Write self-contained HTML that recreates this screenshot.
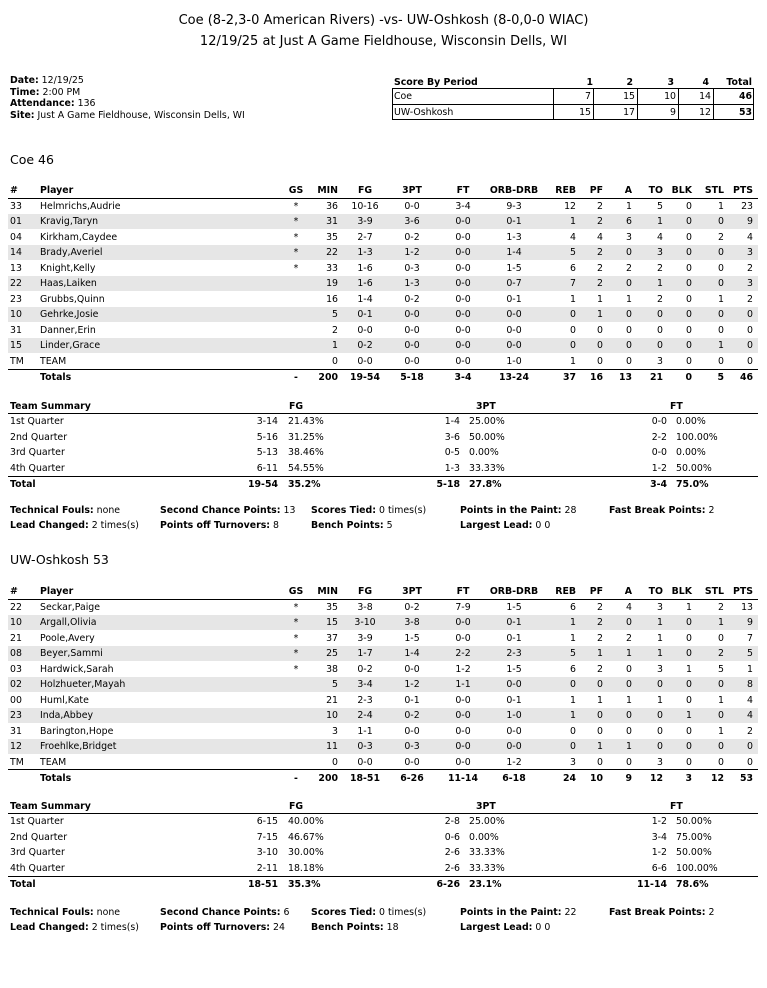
<!DOCTYPE html>
<html><head><meta charset="utf-8"><style>
*{margin:0;padding:0;box-sizing:border-box}
body{width:767px;height:988px;background:#fff;position:relative;font-family:"DejaVu Sans","Liberation Sans",sans-serif;font-size:9.4px;color:#000;overflow:hidden}
.a{position:absolute;white-space:nowrap}
.t{position:absolute;left:0;width:767px;text-align:center;font-size:13px}
.r{position:absolute;left:8px;width:750px;height:15px;line-height:15px}
.r span{position:absolute;top:0;white-space:nowrap}
.sh{background:#e6e6e6}
.b{font-weight:bold}
.n{left:2px}.p{left:32px}
.gs{left:278px;width:20px;text-align:center}
.mn{left:300px;width:30px;text-align:right}
.fg{left:332px;width:50px;text-align:center}
.t3{left:379px;width:50px;text-align:center}
.ft{left:430px;width:50px;text-align:center}
.ob{left:472px;width:68px;text-align:center}
.rb{left:538px;width:30px;text-align:right}
.pf{left:575px;width:20px;text-align:right}
.aa{left:604px;width:20px;text-align:right}
.to{left:635px;width:20px;text-align:right}
.bk{left:659px;width:25px;text-align:right}
.st{left:691px;width:25px;text-align:right}
.pt{left:715px;width:30px;text-align:right}
.line{position:absolute;left:8px;width:750px;height:1px;background:#000}
.s1{left:200px;width:70px;text-align:right}.s1p{left:280px}
.s2{left:390px;width:62px;text-align:right}.s2p{left:461px}
.s3{left:600px;width:59px;text-align:right}.s3p{left:668px}
.box{position:absolute;border:1px solid #000}
</style></head><body>
<div class="t" style="top:13px">Coe (8-2,3-0 American Rivers) -vs- UW-Oshkosh (8-0,0-0 WIAC)</div>
<div class="t" style="top:34px">12/19/25 at Just A Game Fieldhouse, Wisconsin Dells, WI</div>

<div class="a" style="left:10px;top:75px"><b>Date:</b> 12/19/25</div>
<div class="a" style="left:10px;top:87px"><b>Time:</b> 2:00 PM</div>
<div class="a" style="left:10px;top:98px"><b>Attendance:</b> 136</div>
<div class="a" style="left:10px;top:110px"><b>Site:</b> Just A Game Fieldhouse, Wisconsin Dells, WI</div>

<div class="a b" style="left:394px;top:77px">Score By Period</div>
<div class="a b" style="left:583px;top:77px;width:10px;text-align:right">1</div>
<div class="a b" style="left:623px;top:77px;width:10px;text-align:right">2</div>
<div class="a b" style="left:664px;top:77px;width:10px;text-align:right">3</div>
<div class="a b" style="left:699px;top:77px;width:10px;text-align:right">4</div>
<div class="a b" style="left:720px;top:77px;width:32px;text-align:right">Total</div>
<div class="box" style="left:392px;top:88px;width:362px;height:32px"></div>
<div class="line" style="left:392px;width:362px;top:104px"></div>
<div class="a" style="left:553px;top:88px;width:1px;height:32px;background:#000"></div>
<div class="a" style="left:593px;top:88px;width:1px;height:32px;background:#000"></div>
<div class="a" style="left:637px;top:88px;width:1px;height:32px;background:#000"></div>
<div class="a" style="left:678px;top:88px;width:1px;height:32px;background:#000"></div>
<div class="a" style="left:713px;top:88px;width:1px;height:32px;background:#000"></div>
<div class="a" style="left:394px;top:91px">Coe</div>
<div class="a" style="left:394px;top:107px">UW-Oshkosh</div>
<div class="a" style="left:560px;top:91px;width:31px;text-align:right">7</div>
<div class="a" style="left:600px;top:91px;width:35px;text-align:right">15</div>
<div class="a" style="left:640px;top:91px;width:36px;text-align:right">10</div>
<div class="a" style="left:680px;top:91px;width:31px;text-align:right">14</div>
<div class="a b" style="left:715px;top:91px;width:37px;text-align:right">46</div>
<div class="a" style="left:560px;top:107px;width:31px;text-align:right">15</div>
<div class="a" style="left:600px;top:107px;width:35px;text-align:right">17</div>
<div class="a" style="left:640px;top:107px;width:36px;text-align:right">9</div>
<div class="a" style="left:680px;top:107px;width:31px;text-align:right">12</div>
<div class="a b" style="left:715px;top:107px;width:37px;text-align:right">53</div>

<!-- COE -->
<div class="a" style="left:10px;top:152px;font-size:12.5px">Coe 46</div>
<div class="r b" style="top:183px"><span class="n">#</span><span class="p">Player</span><span class="gs">GS</span><span class="mn">MIN</span><span class="fg">FG</span><span class="t3">3PT</span><span class="ft">FT</span><span class="ob">ORB-DRB</span><span class="rb">REB</span><span class="pf">PF</span><span class="aa">A</span><span class="to">TO</span><span class="bk">BLK</span><span class="st">STL</span><span class="pt">PTS</span></div>
<div class="line" style="top:198px"></div>
<div class="r" style="top:199px"><span class="n">33</span><span class="p">Helmrichs,Audrie</span><span class="gs">*</span><span class="mn">36</span><span class="fg">10-16</span><span class="t3">0-0</span><span class="ft">3-4</span><span class="ob">9-3</span><span class="rb">12</span><span class="pf">2</span><span class="aa">1</span><span class="to">5</span><span class="bk">0</span><span class="st">1</span><span class="pt">23</span></div>
<div class="r sh" style="top:214px"><span class="n">01</span><span class="p">Kravig,Taryn</span><span class="gs">*</span><span class="mn">31</span><span class="fg">3-9</span><span class="t3">3-6</span><span class="ft">0-0</span><span class="ob">0-1</span><span class="rb">1</span><span class="pf">2</span><span class="aa">6</span><span class="to">1</span><span class="bk">0</span><span class="st">0</span><span class="pt">9</span></div>
<div class="r" style="top:230px"><span class="n">04</span><span class="p">Kirkham,Caydee</span><span class="gs">*</span><span class="mn">35</span><span class="fg">2-7</span><span class="t3">0-2</span><span class="ft">0-0</span><span class="ob">1-3</span><span class="rb">4</span><span class="pf">4</span><span class="aa">3</span><span class="to">4</span><span class="bk">0</span><span class="st">2</span><span class="pt">4</span></div>
<div class="r sh" style="top:245px"><span class="n">14</span><span class="p">Brady,Averiel</span><span class="gs">*</span><span class="mn">22</span><span class="fg">1-3</span><span class="t3">1-2</span><span class="ft">0-0</span><span class="ob">1-4</span><span class="rb">5</span><span class="pf">2</span><span class="aa">0</span><span class="to">3</span><span class="bk">0</span><span class="st">0</span><span class="pt">3</span></div>
<div class="r" style="top:261px"><span class="n">13</span><span class="p">Knight,Kelly</span><span class="gs">*</span><span class="mn">33</span><span class="fg">1-6</span><span class="t3">0-3</span><span class="ft">0-0</span><span class="ob">1-5</span><span class="rb">6</span><span class="pf">2</span><span class="aa">2</span><span class="to">2</span><span class="bk">0</span><span class="st">0</span><span class="pt">2</span></div>
<div class="r sh" style="top:276px"><span class="n">22</span><span class="p">Haas,Laiken</span><span class="mn">19</span><span class="fg">1-6</span><span class="t3">1-3</span><span class="ft">0-0</span><span class="ob">0-7</span><span class="rb">7</span><span class="pf">2</span><span class="aa">0</span><span class="to">1</span><span class="bk">0</span><span class="st">0</span><span class="pt">3</span></div>
<div class="r" style="top:292px"><span class="n">23</span><span class="p">Grubbs,Quinn</span><span class="mn">16</span><span class="fg">1-4</span><span class="t3">0-2</span><span class="ft">0-0</span><span class="ob">0-1</span><span class="rb">1</span><span class="pf">1</span><span class="aa">1</span><span class="to">2</span><span class="bk">0</span><span class="st">1</span><span class="pt">2</span></div>
<div class="r sh" style="top:307px"><span class="n">10</span><span class="p">Gehrke,Josie</span><span class="mn">5</span><span class="fg">0-1</span><span class="t3">0-0</span><span class="ft">0-0</span><span class="ob">0-0</span><span class="rb">0</span><span class="pf">1</span><span class="aa">0</span><span class="to">0</span><span class="bk">0</span><span class="st">0</span><span class="pt">0</span></div>
<div class="r" style="top:323px"><span class="n">31</span><span class="p">Danner,Erin</span><span class="mn">2</span><span class="fg">0-0</span><span class="t3">0-0</span><span class="ft">0-0</span><span class="ob">0-0</span><span class="rb">0</span><span class="pf">0</span><span class="aa">0</span><span class="to">0</span><span class="bk">0</span><span class="st">0</span><span class="pt">0</span></div>
<div class="r sh" style="top:338px"><span class="n">15</span><span class="p">Linder,Grace</span><span class="mn">1</span><span class="fg">0-2</span><span class="t3">0-0</span><span class="ft">0-0</span><span class="ob">0-0</span><span class="rb">0</span><span class="pf">0</span><span class="aa">0</span><span class="to">0</span><span class="bk">0</span><span class="st">1</span><span class="pt">0</span></div>
<div class="r" style="top:354px"><span class="n">TM</span><span class="p">TEAM</span><span class="mn">0</span><span class="fg">0-0</span><span class="t3">0-0</span><span class="ft">0-0</span><span class="ob">1-0</span><span class="rb">1</span><span class="pf">0</span><span class="aa">0</span><span class="to">3</span><span class="bk">0</span><span class="st">0</span><span class="pt">0</span></div>
<div class="line" style="top:369px"></div>
<div class="r b" style="top:370px"><span class="p">Totals</span><span class="gs">-</span><span class="mn">200</span><span class="fg">19-54</span><span class="t3">5-18</span><span class="ft">3-4</span><span class="ob">13-24</span><span class="rb">37</span><span class="pf">16</span><span class="aa">13</span><span class="to">21</span><span class="bk">0</span><span class="st">5</span><span class="pt">46</span></div>

<div class="r b" style="top:399px"><span class="n">Team Summary</span><span style="left:281px">FG</span><span style="left:468px">3PT</span><span style="left:662px">FT</span></div>
<div class="line" style="top:413px"></div>
<div class="r" style="top:414px"><span class="n">1st Quarter</span><span class="s1">3-14</span><span class="s1p">21.43%</span><span class="s2">1-4</span><span class="s2p">25.00%</span><span class="s3">0-0</span><span class="s3p">0.00%</span></div>
<div class="r" style="top:430px"><span class="n">2nd Quarter</span><span class="s1">5-16</span><span class="s1p">31.25%</span><span class="s2">3-6</span><span class="s2p">50.00%</span><span class="s3">2-2</span><span class="s3p">100.00%</span></div>
<div class="r" style="top:445px"><span class="n">3rd Quarter</span><span class="s1">5-13</span><span class="s1p">38.46%</span><span class="s2">0-5</span><span class="s2p">0.00%</span><span class="s3">0-0</span><span class="s3p">0.00%</span></div>
<div class="r" style="top:461px"><span class="n">4th Quarter</span><span class="s1">6-11</span><span class="s1p">54.55%</span><span class="s2">1-3</span><span class="s2p">33.33%</span><span class="s3">1-2</span><span class="s3p">50.00%</span></div>
<div class="line" style="top:476px"></div>
<div class="r b" style="top:477px"><span class="n">Total</span><span class="s1">19-54</span><span class="s1p">35.2%</span><span class="s2">5-18</span><span class="s2p">27.8%</span><span class="s3">3-4</span><span class="s3p">75.0%</span></div>

<div class="a" style="left:10px;top:505px"><b>Technical Fouls:</b> none</div>
<div class="a" style="left:160px;top:505px"><b>Second Chance Points:</b> 13</div>
<div class="a" style="left:311px;top:505px"><b>Scores Tied:</b> 0 times(s)</div>
<div class="a" style="left:460px;top:505px"><b>Points in the Paint:</b> 28</div>
<div class="a" style="left:609px;top:505px"><b>Fast Break Points:</b> 2</div>
<div class="a" style="left:10px;top:520px"><b>Lead Changed:</b> 2 times(s)</div>
<div class="a" style="left:160px;top:520px"><b>Points off Turnovers:</b> 8</div>
<div class="a" style="left:311px;top:520px"><b>Bench Points:</b> 5</div>
<div class="a" style="left:460px;top:520px"><b>Largest Lead:</b> 0 0</div>

<!-- UWO -->
<div class="a" style="left:10px;top:552px;font-size:12.5px">UW-Oshkosh 53</div>
<div class="r b" style="top:584px"><span class="n">#</span><span class="p">Player</span><span class="gs">GS</span><span class="mn">MIN</span><span class="fg">FG</span><span class="t3">3PT</span><span class="ft">FT</span><span class="ob">ORB-DRB</span><span class="rb">REB</span><span class="pf">PF</span><span class="aa">A</span><span class="to">TO</span><span class="bk">BLK</span><span class="st">STL</span><span class="pt">PTS</span></div>
<div class="line" style="top:599px"></div>
<div class="r" style="top:600px"><span class="n">22</span><span class="p">Seckar,Paige</span><span class="gs">*</span><span class="mn">35</span><span class="fg">3-8</span><span class="t3">0-2</span><span class="ft">7-9</span><span class="ob">1-5</span><span class="rb">6</span><span class="pf">2</span><span class="aa">4</span><span class="to">3</span><span class="bk">1</span><span class="st">2</span><span class="pt">13</span></div>
<div class="r sh" style="top:615px"><span class="n">10</span><span class="p">Argall,Olivia</span><span class="gs">*</span><span class="mn">15</span><span class="fg">3-10</span><span class="t3">3-8</span><span class="ft">0-0</span><span class="ob">0-1</span><span class="rb">1</span><span class="pf">2</span><span class="aa">0</span><span class="to">1</span><span class="bk">0</span><span class="st">1</span><span class="pt">9</span></div>
<div class="r" style="top:631px"><span class="n">21</span><span class="p">Poole,Avery</span><span class="gs">*</span><span class="mn">37</span><span class="fg">3-9</span><span class="t3">1-5</span><span class="ft">0-0</span><span class="ob">0-1</span><span class="rb">1</span><span class="pf">2</span><span class="aa">2</span><span class="to">1</span><span class="bk">0</span><span class="st">0</span><span class="pt">7</span></div>
<div class="r sh" style="top:646px"><span class="n">08</span><span class="p">Beyer,Sammi</span><span class="gs">*</span><span class="mn">25</span><span class="fg">1-7</span><span class="t3">1-4</span><span class="ft">2-2</span><span class="ob">2-3</span><span class="rb">5</span><span class="pf">1</span><span class="aa">1</span><span class="to">1</span><span class="bk">0</span><span class="st">2</span><span class="pt">5</span></div>
<div class="r" style="top:662px"><span class="n">03</span><span class="p">Hardwick,Sarah</span><span class="gs">*</span><span class="mn">38</span><span class="fg">0-2</span><span class="t3">0-0</span><span class="ft">1-2</span><span class="ob">1-5</span><span class="rb">6</span><span class="pf">2</span><span class="aa">0</span><span class="to">3</span><span class="bk">1</span><span class="st">5</span><span class="pt">1</span></div>
<div class="r sh" style="top:677px"><span class="n">02</span><span class="p">Holzhueter,Mayah</span><span class="mn">5</span><span class="fg">3-4</span><span class="t3">1-2</span><span class="ft">1-1</span><span class="ob">0-0</span><span class="rb">0</span><span class="pf">0</span><span class="aa">0</span><span class="to">0</span><span class="bk">0</span><span class="st">0</span><span class="pt">8</span></div>
<div class="r" style="top:693px"><span class="n">00</span><span class="p">Huml,Kate</span><span class="mn">21</span><span class="fg">2-3</span><span class="t3">0-1</span><span class="ft">0-0</span><span class="ob">0-1</span><span class="rb">1</span><span class="pf">1</span><span class="aa">1</span><span class="to">1</span><span class="bk">0</span><span class="st">1</span><span class="pt">4</span></div>
<div class="r sh" style="top:708px"><span class="n">23</span><span class="p">Inda,Abbey</span><span class="mn">10</span><span class="fg">2-4</span><span class="t3">0-2</span><span class="ft">0-0</span><span class="ob">1-0</span><span class="rb">1</span><span class="pf">0</span><span class="aa">0</span><span class="to">0</span><span class="bk">1</span><span class="st">0</span><span class="pt">4</span></div>
<div class="r" style="top:724px"><span class="n">31</span><span class="p">Barington,Hope</span><span class="mn">3</span><span class="fg">1-1</span><span class="t3">0-0</span><span class="ft">0-0</span><span class="ob">0-0</span><span class="rb">0</span><span class="pf">0</span><span class="aa">0</span><span class="to">0</span><span class="bk">0</span><span class="st">1</span><span class="pt">2</span></div>
<div class="r sh" style="top:739px"><span class="n">12</span><span class="p">Froehlke,Bridget</span><span class="mn">11</span><span class="fg">0-3</span><span class="t3">0-3</span><span class="ft">0-0</span><span class="ob">0-0</span><span class="rb">0</span><span class="pf">1</span><span class="aa">1</span><span class="to">0</span><span class="bk">0</span><span class="st">0</span><span class="pt">0</span></div>
<div class="r" style="top:755px"><span class="n">TM</span><span class="p">TEAM</span><span class="mn">0</span><span class="fg">0-0</span><span class="t3">0-0</span><span class="ft">0-0</span><span class="ob">1-2</span><span class="rb">3</span><span class="pf">0</span><span class="aa">0</span><span class="to">3</span><span class="bk">0</span><span class="st">0</span><span class="pt">0</span></div>
<div class="line" style="top:769px"></div>
<div class="r b" style="top:771px"><span class="p">Totals</span><span class="gs">-</span><span class="mn">200</span><span class="fg">18-51</span><span class="t3">6-26</span><span class="ft">11-14</span><span class="ob">6-18</span><span class="rb">24</span><span class="pf">10</span><span class="aa">9</span><span class="to">12</span><span class="bk">3</span><span class="st">12</span><span class="pt">53</span></div>

<div class="r b" style="top:799px"><span class="n">Team Summary</span><span style="left:281px">FG</span><span style="left:468px">3PT</span><span style="left:662px">FT</span></div>
<div class="line" style="top:813px"></div>
<div class="r" style="top:814px"><span class="n">1st Quarter</span><span class="s1">6-15</span><span class="s1p">40.00%</span><span class="s2">2-8</span><span class="s2p">25.00%</span><span class="s3">1-2</span><span class="s3p">50.00%</span></div>
<div class="r" style="top:830px"><span class="n">2nd Quarter</span><span class="s1">7-15</span><span class="s1p">46.67%</span><span class="s2">0-6</span><span class="s2p">0.00%</span><span class="s3">3-4</span><span class="s3p">75.00%</span></div>
<div class="r" style="top:845px"><span class="n">3rd Quarter</span><span class="s1">3-10</span><span class="s1p">30.00%</span><span class="s2">2-6</span><span class="s2p">33.33%</span><span class="s3">1-2</span><span class="s3p">50.00%</span></div>
<div class="r" style="top:861px"><span class="n">4th Quarter</span><span class="s1">2-11</span><span class="s1p">18.18%</span><span class="s2">2-6</span><span class="s2p">33.33%</span><span class="s3">6-6</span><span class="s3p">100.00%</span></div>
<div class="line" style="top:876px"></div>
<div class="r b" style="top:877px"><span class="n">Total</span><span class="s1">18-51</span><span class="s1p">35.3%</span><span class="s2">6-26</span><span class="s2p">23.1%</span><span class="s3">11-14</span><span class="s3p">78.6%</span></div>

<div class="a" style="left:10px;top:907px"><b>Technical Fouls:</b> none</div>
<div class="a" style="left:160px;top:907px"><b>Second Chance Points:</b> 6</div>
<div class="a" style="left:311px;top:907px"><b>Scores Tied:</b> 0 times(s)</div>
<div class="a" style="left:460px;top:907px"><b>Points in the Paint:</b> 22</div>
<div class="a" style="left:609px;top:907px"><b>Fast Break Points:</b> 2</div>
<div class="a" style="left:10px;top:922px"><b>Lead Changed:</b> 2 times(s)</div>
<div class="a" style="left:160px;top:922px"><b>Points off Turnovers:</b> 24</div>
<div class="a" style="left:311px;top:922px"><b>Bench Points:</b> 18</div>
<div class="a" style="left:460px;top:922px"><b>Largest Lead:</b> 0 0</div>
</body></html>
